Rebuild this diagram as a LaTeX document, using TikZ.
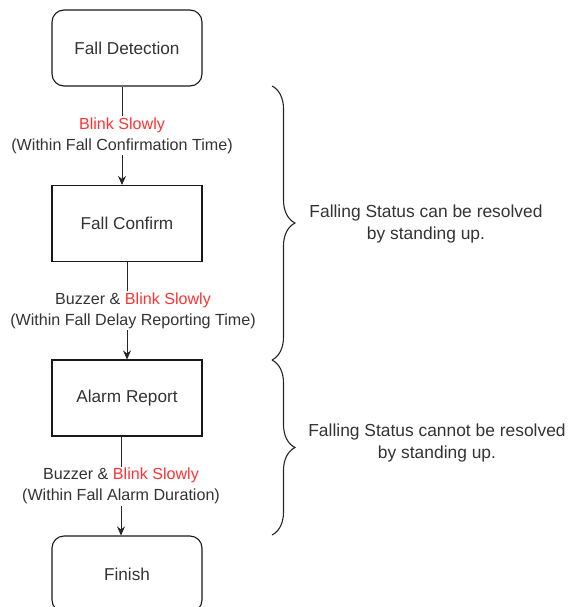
\documentclass[tikz,border=0pt]{standalone}
\usepackage{fontspec}
\setmainfont{Liberation Sans}
\usetikzlibrary{arrows.meta,decorations.pathreplacing}
\definecolor{txt}{HTML}{333333}
\definecolor{blink}{HTML}{FF3333}
\begin{document}
\begin{tikzpicture}[x=1pt,y=-1pt,
 box/.style={draw=black!90,line width=1.1pt,minimum width=150pt,minimum height=76pt,text=txt,font=\fontsize{17.2}{20}\selectfont,inner sep=0pt},
 rbox/.style={box,rounded corners=12pt},
 lbl/.style={fill=white,text=txt,align=center,font=\fontsize{16.1}{21}\selectfont,inner sep=1.5pt},
 conn/.style={draw=black!85,line width=0.9pt,-{Stealth[length=9pt,width=8pt]}},
 brc/.style={decorate,decoration={brace,amplitude=23pt},line width=1.1pt,draw=black!85},
 side/.style={text=txt,align=center,font=\fontsize{17.4}{22.5}\selectfont}
]
\useasboundingbox (0,0) rectangle (571,607);
\node[rbox] (fd) at (127,48) {Fall Detection};
\node[box] (fc) at (127,223.5) {Fall Confirm};
\node[box] (ar) at (127,398) {Alarm Report};
\node[rbox] (fi) at (127,574) {Finish};

\draw[conn] ([xshift=-5pt]fd.south) -- ([xshift=-5pt]fc.north)
  node[midway,lbl] {{\color{blink}Blink Slowly}\\(Within Fall Confirmation Time)};
\draw[conn] (fc.south) -- (ar.north)
  node[midway,lbl,xshift=6pt] {Buzzer \& {\color{blink}Blink Slowly}\\(Within Fall Delay Reporting Time)};
\draw[conn] ([xshift=-6pt]ar.south) -- ([xshift=-6pt]fi.north)
  node[midway,lbl] {Buzzer \& {\color{blink}Blink Slowly}\\(Within Fall Alarm Duration)};

\coordinate (b1t) at (272,86);
\coordinate (b1b) at (272,360);
\coordinate (b2t) at (272,360);
\coordinate (b2b) at (272,535);
\draw[brc] (b1t) -- (b1b);
\draw[brc] (b2t) -- (b2b);

\node[side] (s1) at (426,224) {Falling Status can be resolved\\by standing up.};
\node[side] (s2) at (437,443) {Falling Status cannot be resolved\\by standing up.};
\end{tikzpicture}
\end{document}
